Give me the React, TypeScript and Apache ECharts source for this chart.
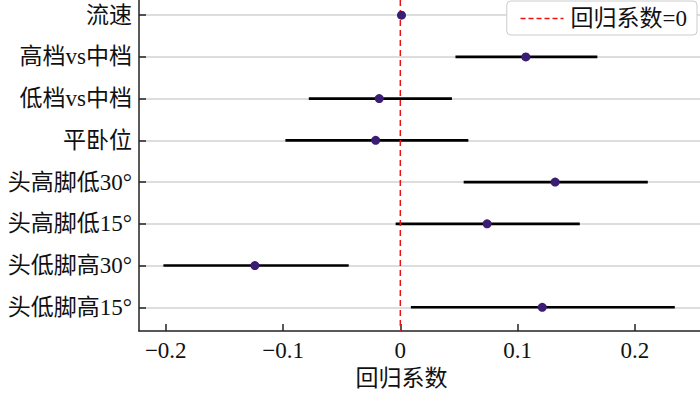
import React, { useEffect, useRef } from "react";
import * as echarts from "echarts";

const categories = ["流速", "高档vs中档", "低档vs中档", "平卧位", "头高脚低30°", "头高脚低15°", "头低脚高30°", "头低脚高15°"];
const estimates = [0.001, 0.107, -0.018, -0.021, 0.132, 0.074, -0.124, 0.121];
const lowerCI = [0.0, 0.047, -0.078, -0.098, 0.054, -0.004, -0.202, 0.009];
const upperCI = [0.002, 0.168, 0.044, 0.058, 0.211, 0.153, -0.044, 0.234];
const xTicks = [-0.2, -0.1, 0, 0.1, 0.2];
const refName = "回归系数=0";
const xName = "回归系数";

const FONT = "'Times New Roman', 'Liberation Serif', 'Noto Sans CJK SC', serif";
const FS = 23;
const Y_MIN = -0.363;
const Y_MAX = 7.57;
const X_MIN = -0.2228;
const X_MAX = 0.2555;

export default function App() {
  const ref = useRef<HTMLDivElement>(null);
  useEffect(() => {
    if (!ref.current) return;
    const chart = echarts.init(ref.current, null, { renderer: "svg" });
    const yIdx = categories.map((_, i) => i);
    const option: any = {
      animation: false,
      backgroundColor: "#ffffff",
      textStyle: { fontFamily: FONT },
      grid: { left: 139, right: 0, top: 0, bottom: 61, containLabel: false },
      legend: {
        data: [refName],
        right: 3,
        top: 1,
        padding: [6, 10, 5, 13],
        itemWidth: 43,
        itemHeight: 14,
        itemGap: 10,
        borderColor: "#cccccc",
        borderWidth: 1,
        borderRadius: 4,
        backgroundColor: "#ffffff",
        itemStyle: { color: "rgba(0,0,0,0)", borderWidth: 0, opacity: 0 },
        lineStyle: { color: "#ee1111", width: 1.5, type: [5, 3], opacity: 1 },
        textStyle: { fontFamily: FONT, fontSize: FS, color: "#111", padding: [0, 0, 0, 2] },
      },
      xAxis: {
        type: "value",
        min: X_MIN,
        max: X_MAX,
        name: xName,
        nameLocation: "middle",
        nameGap: 34,
        nameTextStyle: { fontFamily: FONT, fontSize: FS, color: "#111", padding: [0, 36, 0, 0] },
        axisLine: { show: true, onZero: false, lineStyle: { color: "#222", width: 1.5 } },
        axisTick: { show: true, inside: true, length: 7, customValues: xTicks, lineStyle: { color: "#222", width: 1.5 } },
        axisLabel: {
          customValues: xTicks,
          margin: 8,
          fontFamily: FONT,
          fontSize: FS,
          color: "#111",
          formatter: (v: number) => (v < 0 ? "\u2212" + String(Math.abs(Math.round(v * 10) / 10)) : String(Math.round(v * 10) / 10)),
        },
        splitLine: { show: false },
      },
      yAxis: {
        type: "value",
        inverse: true,
        min: Y_MIN,
        max: Y_MAX,
        axisLine: { show: true, onZero: false, lineStyle: { color: "#222", width: 1.5 } },
        axisTick: { show: true, inside: true, length: 7, customValues: yIdx, lineStyle: { color: "#222", width: 1.5 } },
        axisLabel: {
          customValues: yIdx,
          margin: 7,
          fontFamily: FONT,
          fontSize: FS,
          color: "#111",
          formatter: (v: number) => categories[Math.round(v)] ?? "",
        },
        splitLine: { show: true, lineStyle: { color: "#d2d2d2", width: 1.5 } },
      },
      series: [
        {
          type: "custom",
          name: "ci",
          z: 2,
          data: yIdx.map((i) => [i, lowerCI[i], upperCI[i]]),
          encode: { x: [1, 2], y: 0 },
          renderItem: (params: any, api: any) => {
            const y = api.value(0);
            const p1 = api.coord([api.value(1), y]);
            const p2 = api.coord([api.value(2), y]);
            return {
              type: "line",
              shape: { x1: p1[0], y1: p1[1], x2: p2[0], y2: p2[1] },
              style: { stroke: "#000000", lineWidth: 2.6 },
            };
          },
        },
        {
          type: "line",
          name: refName,
          z: 3,
          data: [[0, Y_MIN], [0, Y_MAX]],
          symbol: "none",
          lineStyle: { color: "#ee1111", width: 1.5, type: [6, 4] },
          itemStyle: { color: "#ee1111" },
        },
        {
          type: "scatter",
          name: "est",
          z: 4,
          symbolSize: 9,
          data: yIdx.map((i) => [estimates[i], i]),
          itemStyle: { color: "#3b1d73", opacity: 1 },
        },
      ],
    };
    chart.setOption(option);
    return () => chart.dispose();
  }, []);
  return <div ref={ref} style={{ width: 700, height: 395, position: "absolute", left: 0, top: 0 }} />;
}
